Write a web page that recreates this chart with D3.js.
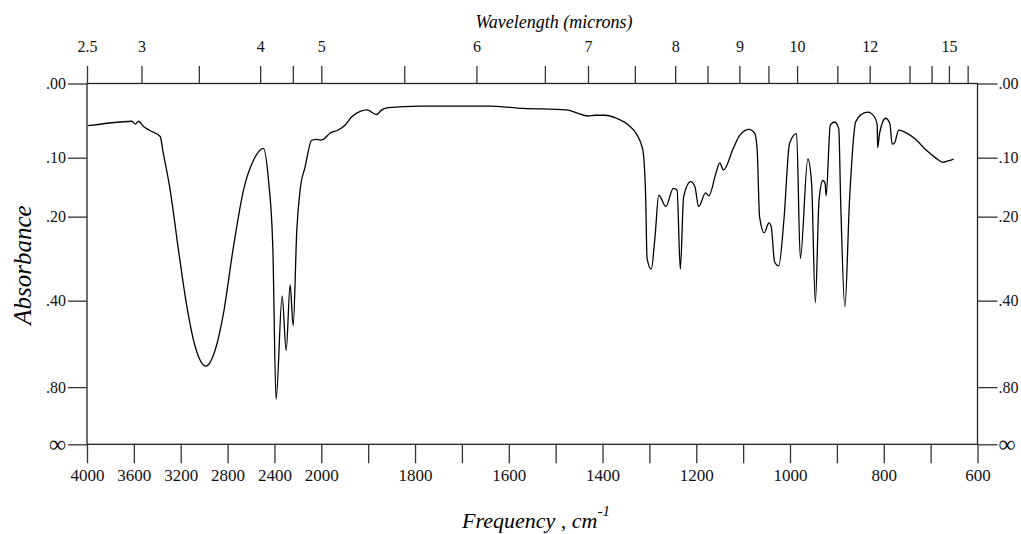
<!DOCTYPE html>
<html>
<head>
<meta charset="utf-8">
<script src="https://cdn.jsdelivr.net/npm/d3@7"></script>
<style>
  body { margin: 0; background: #fff; }
  .axis path { display: none; }
</style>
</head>
<body>
<div id="chart"></div>
<script>
// spectrum: wavenumber (cm-1) and absorbance
var freq = [3990, 3716, 3616, 3588, 3560, 3517, 3460, 3375, 3352, 3290, 3219, 3147, 3076, 2985, 2906,
  2835, 2750, 2664, 2579, 2494, 2451, 2414, 2386, 2334, 2300, 2266, 2240, 2209, 2181, 2138, 2081,
  2038, 2010, 1996, 1981, 1964, 1949, 1935, 1917, 1903, 1882, 1871, 1857, 1790, 1718, 1644, 1569,
  1477, 1455, 1431, 1416, 1395, 1370, 1345, 1327, 1317, 1313, 1308, 1305, 1296, 1288, 1280, 1265,
  1249, 1241, 1234, 1227, 1212, 1203, 1195, 1180, 1173, 1158, 1150, 1142, 1121, 1107, 1087, 1075,
  1070, 1065, 1055, 1045, 1040, 1033, 1024, 1013, 1001, 986, 978, 962, 954, 946, 938, 930, 925, 923,
  914, 905, 896, 892, 883, 873, 860, 848, 834, 819, 814, 813, 809, 796, 787, 782, 777, 768, 752, 734,
  709, 688, 674, 663, 651];
var absorb = [0.054, 0.049, 0.048, 0.052, 0.048, 0.055, 0.061, 0.069, 0.090, 0.152, 0.269, 0.419, 0.568, 0.664, 0.583,
  0.440, 0.262, 0.152, 0.104, 0.086, 0.135, 0.262, 0.904, 0.386, 0.586, 0.355, 0.483, 0.226, 0.152, 0.114, 0.074,
  0.073, 0.074, 0.073, 0.064, 0.060, 0.053, 0.042, 0.035, 0.033, 0.039, 0.033, 0.030, 0.028, 0.028, 0.028, 0.031,
  0.033, 0.037, 0.041, 0.040, 0.040, 0.044, 0.053, 0.066, 0.081, 0.093, 0.164, 0.288, 0.314, 0.240, 0.161, 0.181,
  0.149, 0.152, 0.314, 0.164, 0.138, 0.146, 0.181, 0.157, 0.162, 0.124, 0.108, 0.119, 0.086, 0.067, 0.059, 0.065,
  0.089, 0.200, 0.232, 0.212, 0.220, 0.296, 0.306, 0.206, 0.079, 0.065, 0.288, 0.102, 0.140, 0.406, 0.169, 0.136, 0.141, 0.162,
  0.053, 0.049, 0.058, 0.169, 0.419, 0.169, 0.049, 0.039, 0.036, 0.043, 0.053, 0.085, 0.065, 0.044, 0.051, 0.080, 0.078, 0.060, 0.064, 0.072,
  0.089, 0.101, 0.107, 0.105, 0.102];

// bottom axis
var freqTicks = [4000, 3600, 3200, 2800, 2400, 2000, 1900, 1800, 1700, 1600, 1500, 1400, 1300, 1200, 1100, 1000, 900, 800, 700, 600];
var freqLabels = ["4000", "3600", "3200", "2800", "2400", "2000", "", "1800", "", "1600", "", "1400", "", "1200", "", "1000", "", "800", "", "600"];
// top axis: wavelength ticks and where they sit on the cm-1 scale (as read)
var waveTicks = [2.5, 3, 3.5, 4, 4.5, 5, 5.5, 6, 6.5, 7, 7.5, 8, 8.5, 9, 9.5, 10, 11, 12, 13, 14, 15, 16];
var waveTickPos = [4000, 3535, 3045, 2522, 2243, 2000, 1823, 1669, 1523, 1431, 1331, 1245, 1176, 1108, 1046, 985, 899, 830, 745, 698, 661, 621];
var waveLabels = ["2.5", "3", "", "4", "", "5", "", "6", "", "7", "", "8", "", "9", "", "10", "", "12", "", "", "15", ""];
// absorbance axis
var absTicks = [0, 0.1, 0.2, 0.4, 0.8, Infinity];
var absLabels = [".00", ".10", ".20", ".40", ".80", "\u221E"];

var SERIF = '"Liberation Serif", "Times New Roman", serif';

drawSpectrum();

function trans(a) { return Math.pow(10, -a); }

function styleAxis(g, size) {
  g.attr("font-family", SERIF);
  g.selectAll(".tick line").attr("stroke", "#333").attr("stroke-width", 1.3);
  g.selectAll(".tick text")
    .attr("fill", "#111")
    .style("font-family", SERIF)
    .style("font-size", size + "px");
}

function drawSpectrum() {
  var W = 1021, H = 534;
  var mLeft = 87, mRight = 977.5, mTop = 83.5, mBottom = 444.3;

  var svg = d3.select("#chart").append("svg")
    .attr("width", W)
    .attr("height", H)
    .style("font-family", SERIF);

  // expanded scale below 2000 cm-1
  var x = d3.scaleLinear()
    .domain([4000, 2000, 600])
    .range([mLeft, 321.3, mRight]);

  // linear in transmittance
  var y = d3.scaleLinear()
    .domain([1, 0])
    .range([mTop, mBottom]);

  // frame
  svg.append("rect")
    .attr("x", mLeft).attr("y", mTop)
    .attr("width", mRight - mLeft).attr("height", mBottom - mTop)
    .attr("fill", "none")
    .attr("stroke", "#222")
    .attr("stroke-width", 1.3);

  var bAxis = svg.append("g")
    .attr("class", "axis")
    .attr("transform", "translate(0," + mBottom + ")")
    .call(d3.axisBottom(x).tickValues(freqTicks).tickSize(19).tickPadding(6)
      .tickFormat(function (d, i) { return freqLabels[i]; }));
  styleAxis(bAxis, 17);

  var tAxis = svg.append("g")
    .attr("class", "axis")
    .attr("transform", "translate(0," + mTop + ")")
    .call(d3.axisTop(x).tickValues(waveTickPos).tickSize(17.5).tickPadding(14)
      .tickFormat(function (d, i) { return waveLabels[i]; }));
  styleAxis(tAxis, 16);

  var lAxis = svg.append("g")
    .attr("class", "axis")
    .attr("transform", "translate(" + mLeft + ",0)")
    .call(d3.axisLeft(y).tickValues(absTicks.map(trans)).tickSize(19).tickPadding(2)
      .tickFormat(function (d, i) { return absLabels[i]; }));
  styleAxis(lAxis, 16);

  var rAxis = svg.append("g")
    .attr("class", "axis")
    .attr("transform", "translate(" + mRight + ",0)")
    .call(d3.axisRight(y).tickValues(absTicks.map(trans)).tickSize(20).tickPadding(1)
      .tickFormat(function (d, i) { return absLabels[i]; }));
  styleAxis(rAxis, 16);

  // bigger infinity sign
  [lAxis, rAxis].forEach(function (g) {
    g.selectAll(".tick text").filter(function (d) { return d === 0; })
      .style("font-size", "24px").attr("dy", "0.3em");
  });

  // the spectrum
  var pts = freq.map(function (f, i) { return [f, absorb[i]]; });
  var line = d3.line()
    .x(function (d) { return x(d[0]); })
    .y(function (d) { return y(trans(d[1])); })
    .curve(d3.curveMonotoneX);

  svg.append("path")
    .datum(pts)
    .attr("d", line)
    .attr("fill", "none")
    .attr("stroke", "#000")
    .attr("stroke-width", 1.3)
    .attr("stroke-linejoin", "round");

  // titles
  svg.append("text")
    .attr("x", 554)
    .attr("y", 28)
    .attr("text-anchor", "middle")
    .style("font-style", "italic")
    .style("font-size", "18px")
    .text("Wavelength (microns)");

  svg.append("text")
    .attr("transform", "translate(31,265) rotate(-90)")
    .attr("text-anchor", "middle")
    .style("font-style", "italic")
    .style("font-size", "25px")
    .text("Absorbance");

  var ft = svg.append("text")
    .attr("x", 462)
    .attr("y", 528)
    .style("font-style", "italic")
    .style("font-size", "22px");
  ft.append("tspan").text("Frequency , cm");
  ft.append("tspan").attr("dy", -12).style("font-size", "15px").text("-1");
}
</script>
</body>
</html>
